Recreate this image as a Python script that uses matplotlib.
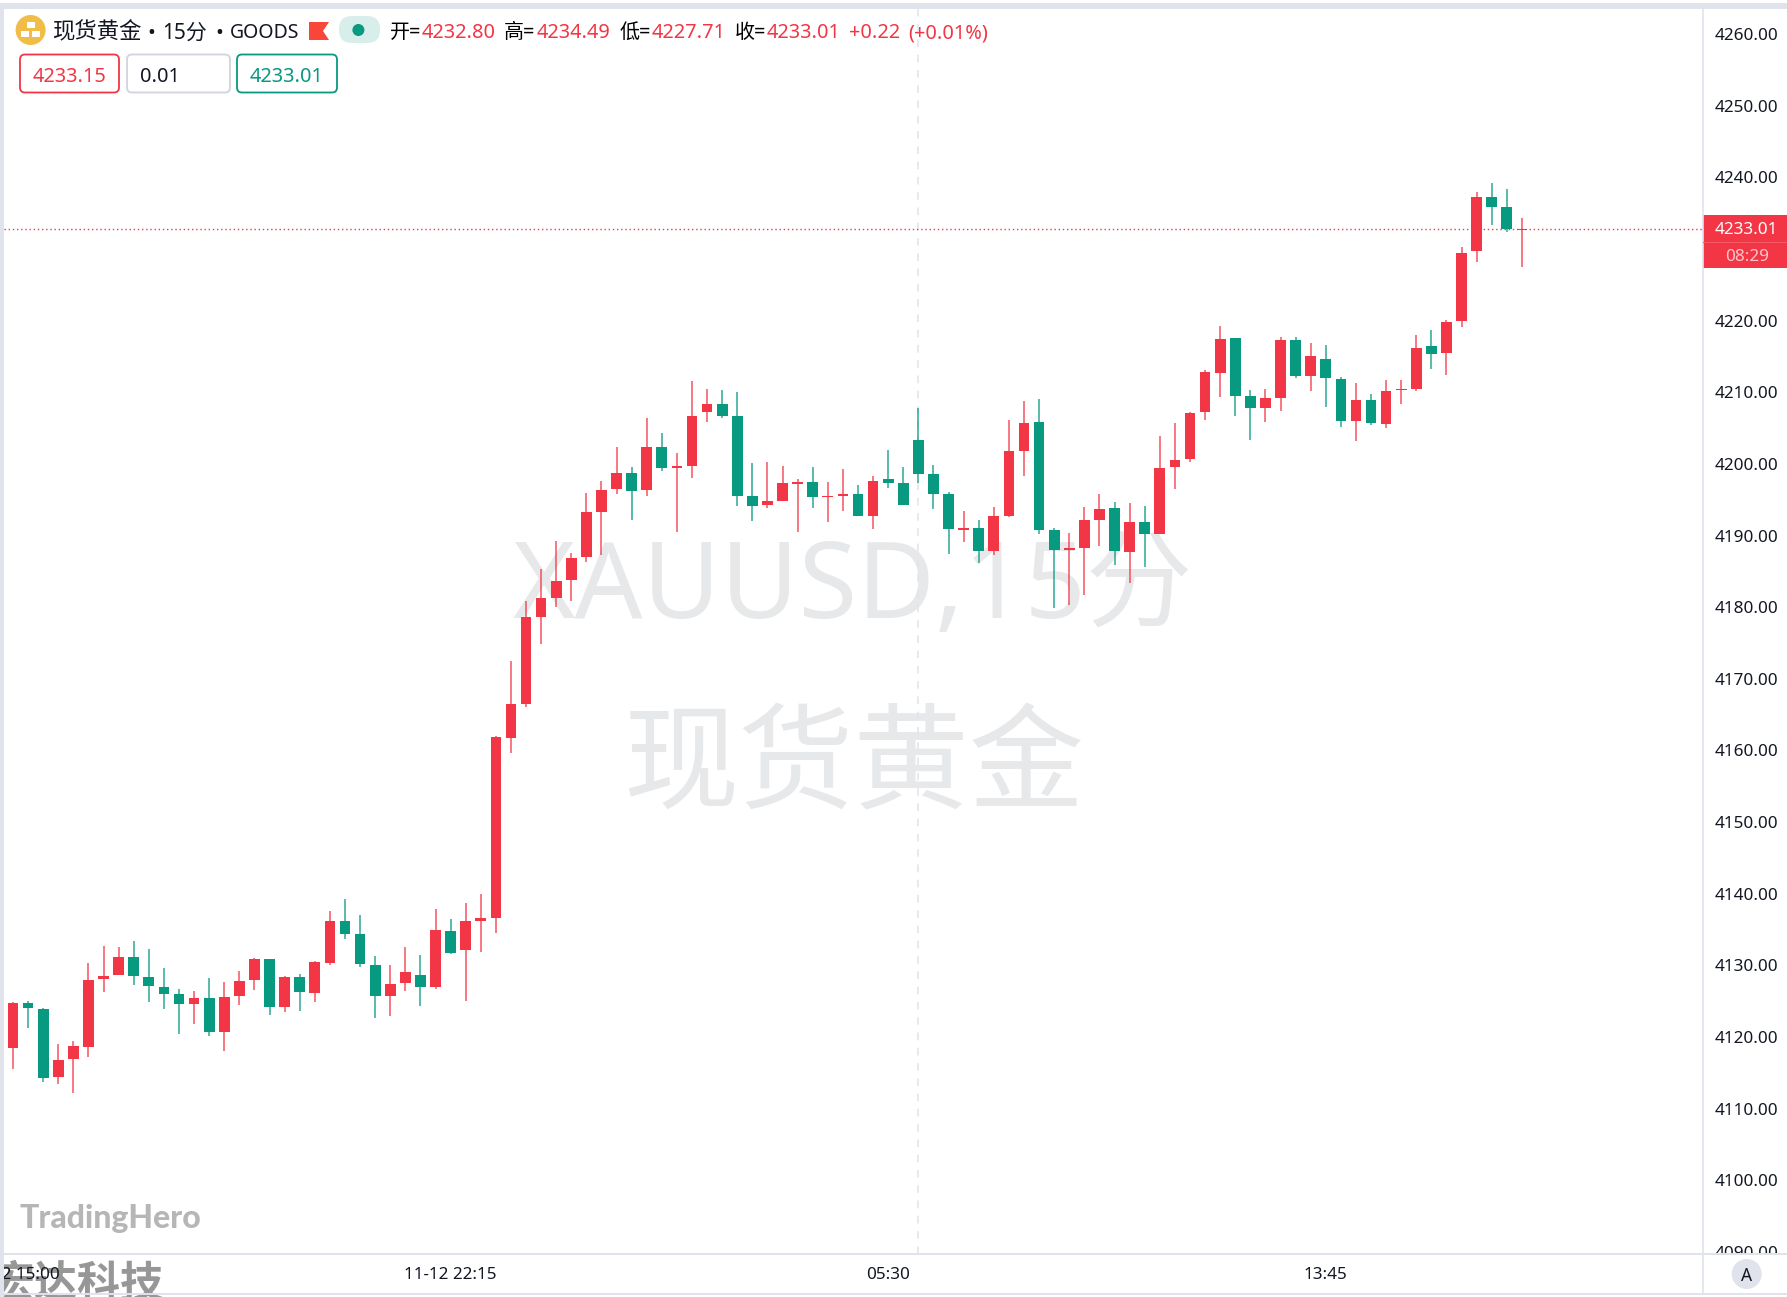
"""XAUUSD 15 分钟 K 线图 (TradingHero 截图复刻)"""
import matplotlib
matplotlib.use("Agg")
import matplotlib.pyplot as plt
import matplotlib.patches as mpatches
import matplotlib.transforms as mtransforms
import numpy as np

W, H = 1787, 1297
plt.rcParams['font.family'] = ['Noto Sans', 'Noto Sans CJK SC', 'DejaVu Sans']

UP = '#F23645'
DOWN = '#089981'
LINE = '#E0E3EB'

opens = [
    4118.70, 4124.93, 4124.14, 4114.56, 4117.07, 4118.84, 4128.24, 4128.84, 4131.31, 4128.56,
    4127.21, 4126.19, 4124.84, 4125.68, 4120.88, 4125.86, 4128.10, 4131.07, 4124.37, 4128.52,
    4126.33, 4130.56, 4136.33, 4134.52, 4130.24, 4125.86, 4127.68, 4128.84, 4127.12, 4135.03,
    4132.28, 4136.41, 4136.83, 4161.95, 4166.66, 4178.76, 4181.46, 4183.97, 4187.14, 4193.42,
    4196.63, 4198.86, 4196.49, 4202.49, 4199.56, 4199.88, 4207.38, 4208.54, 4206.86, 4195.69,
    4194.48, 4195.00, 4197.41, 4197.65, 4195.51, 4195.69, 4195.93, 4192.86, 4198.02, 4197.47,
    4203.47, 4198.81, 4195.93, 4190.99, 4191.18, 4188.02, 4192.86, 4202.02, 4206.02, 4190.90,
    4188.20, 4188.43, 4192.38, 4193.98, 4187.92, 4192.06, 4190.43, 4199.70, 4200.82, 4207.38,
    4212.90, 4217.71, 4209.61, 4207.93, 4209.42, 4217.47, 4212.49, 4214.86, 4211.98, 4206.12,
    4209.05, 4205.79, 4210.45, 4210.59, 4216.59, 4215.61, 4220.12, 4229.85, 4237.39, 4236.08,
    4232.80,
]
highs = [
    4125.12, 4125.26, 4124.23, 4119.16, 4119.67, 4130.47, 4132.94, 4132.75, 4133.59, 4132.52,
    4129.77, 4126.84, 4126.56, 4128.47, 4127.86, 4129.45, 4131.17, 4131.12, 4128.70, 4128.98,
    4130.75, 4137.73, 4139.40, 4137.26, 4131.49, 4130.28, 4132.70, 4131.59, 4138.01, 4136.61,
    4138.84, 4140.09, 4162.19, 4172.66, 4181.08, 4185.46, 4189.41, 4187.69, 4196.11, 4197.75,
    4202.49, 4199.78, 4206.58, 4204.45, 4201.65, 4211.79, 4210.63, 4210.45, 4210.17, 4200.34,
    4200.44, 4199.92, 4198.02, 4199.70, 4197.61, 4199.50, 4197.19, 4198.48, 4202.11, 4199.78,
    4207.93, 4199.98, 4196.21, 4193.56, 4192.30, 4194.16, 4206.26, 4208.95, 4209.23, 4191.18,
    4190.49, 4194.12, 4195.93, 4194.81, 4194.72, 4194.25, 4204.11, 4205.84, 4207.46, 4213.24,
    4219.42, 4217.71, 4210.49, 4210.63, 4217.85, 4217.85, 4217.09, 4216.73, 4212.26, 4211.51,
    4209.89, 4211.93, 4211.93, 4218.21, 4218.87, 4220.22, 4230.49, 4238.17, 4239.43, 4238.55,
    4234.49,
]
lows = [
    4115.67, 4121.49, 4113.95, 4113.67, 4112.32, 4117.44, 4126.42, 4128.84, 4127.49, 4125.03,
    4124.09, 4120.65, 4121.95, 4120.37, 4118.19, 4124.65, 4126.75, 4123.21, 4123.68, 4123.86,
    4125.03, 4130.24, 4133.87, 4129.91, 4122.84, 4123.16, 4126.56, 4124.56, 4126.93, 4131.77,
    4125.21, 4132.04, 4134.73, 4159.82, 4166.20, 4175.08, 4180.24, 4181.08, 4186.44, 4187.46,
    4195.93, 4192.38, 4195.73, 4199.18, 4190.63, 4198.16, 4206.06, 4206.62, 4194.25, 4192.20,
    4194.06, 4195.00, 4190.71, 4194.06, 4192.02, 4193.64, 4192.86, 4191.13, 4196.77, 4194.39,
    4197.47, 4193.84, 4187.60, 4189.31, 4186.38, 4187.50, 4192.72, 4198.53, 4190.43, 4180.10,
    4180.52, 4181.83, 4188.71, 4186.10, 4183.55, 4185.74, 4190.43, 4196.71, 4200.48, 4206.26,
    4209.55, 4206.90, 4203.51, 4205.98, 4207.60, 4212.21, 4210.35, 4208.16, 4205.32, 4203.41,
    4205.56, 4205.23, 4208.49, 4210.31, 4213.42, 4212.54, 4219.33, 4228.36, 4233.52, 4232.59,
    4227.71,
]
closes = [
    4124.93, 4124.19, 4114.51, 4117.02, 4118.93, 4128.14, 4128.70, 4131.40, 4128.65, 4127.26,
    4126.23, 4124.79, 4125.68, 4120.84, 4125.77, 4127.96, 4131.12, 4124.37, 4128.52, 4126.51,
    4130.61, 4136.33, 4134.56, 4130.38, 4125.96, 4127.54, 4129.21, 4127.12, 4135.08, 4131.87,
    4136.38, 4136.74, 4162.09, 4166.66, 4178.76, 4181.46, 4183.87, 4187.04, 4193.42, 4196.53,
    4198.86, 4196.43, 4202.49, 4199.56, 4199.88, 4206.86, 4208.54, 4206.86, 4195.69, 4194.25,
    4195.00, 4197.51, 4197.65, 4195.60, 4195.69, 4195.97, 4192.94, 4197.79, 4197.47, 4194.48,
    4198.72, 4196.01, 4191.09, 4191.18, 4188.02, 4192.86, 4202.02, 4205.88, 4190.95, 4188.20,
    4188.39, 4192.34, 4193.92, 4188.02, 4192.11, 4190.43, 4199.60, 4200.76, 4207.28, 4212.96,
    4217.65, 4209.69, 4207.93, 4209.37, 4217.51, 4212.49, 4215.28, 4212.16, 4206.16, 4209.14,
    4205.84, 4210.39, 4210.63, 4216.39, 4215.51, 4220.02, 4229.61, 4237.43, 4236.08, 4232.92,
    4233.01,
]

price_ticks = list(range(4090, 4270, 10))
time_ticks = [0, 29, 58, 87]
time_labels = ['11-12 15:00', '11-12 22:15', '05:30', '13:45']
crosshair_bar = 60
last_price = 4233.01

legend_parts = [
    (390, '开=', 'black'), (422, '4232.80', UP),
    (504, '高=', 'black'), (537, '4234.49', UP),
    (620, '低=', 'black'), (652, '4227.71', UP),
    (735, '收=', 'black'), (767, '4233.01', UP),
    (849, '+0.22', UP), (908, '(+0.01%)', UP),
]
title_parts = [
    (52, '现货黄金', 16.1), (147, '•', 15), (162.5, '15分', 15), (215, '•', 15), (230, 'GOODS', 14),
]


def px_rect(x0, y0, x1, y1):
    """像素坐标 (原点左上) -> figure 坐标"""
    return [x0 / W, 1 - y1 / H, (x1 - x0) / W, (y1 - y0) / H]


fig = plt.figure(figsize=(W / 100, H / 100), dpi=100, facecolor='white')

# --- 主图 ---
ax = fig.add_axes(px_rect(3.5, 9, 1703, 1254))
ax.set_facecolor('white')
ax.set_xlim(-0.63, 112.0)
ax.set_ylim(4089.88, 4263.67)

xs = np.arange(len(opens))
o, h, l, c = map(np.array, (opens, highs, lows, closes))
colors = [UP if cc >= oo else DOWN for oo, cc in zip(o, c)]

ax.vlines(xs, l, h, colors=colors, linewidth=1.1, alpha=0.85, zorder=3)
ax.bar(xs, np.abs(c - o), bottom=np.minimum(o, c), width=0.71, color=colors,
       linewidth=0, zorder=4)

ax.axvline(crosshair_bar, color=LINE, linewidth=1.1, linestyle=(0, (5, 5)), zorder=1)
ax.axhline(last_price, color=UP, linewidth=1, linestyle=(0, (1, 2)), zorder=2)

ax.yaxis.tick_right()
ax.set_yticks(price_ticks)
ax.set_yticklabels([f'{p:.2f}' for p in price_ticks], va='center_baseline')
ax.tick_params(axis='y', length=0, pad=8.6, labelsize=12.3, labelcolor='#131722')
ax.set_xticks([])
for s in ax.spines.values():
    s.set_visible(False)

# 价格标签上移一点
nudge = mtransforms.ScaledTranslation(0, 1.2 / 100, fig.dpi_scale_trans)
for label in ax.get_yticklabels():
    label.set_transform(label.get_transform() + nudge)

# --- 时间轴 ---
tax = fig.add_axes(px_rect(3.5, 1254, 1703, 1293), zorder=2)
tax.set_facecolor('white')
tax.set_xlim(ax.get_xlim())
tax.set_ylim(0, 1)
tax.set_yticks([])
tax.set_xticks(time_ticks)
tax.set_xticklabels(time_labels)
tax.tick_params(axis='x', length=0, pad=-19, labelsize=12.3, labelcolor='#131722')
for s in tax.spines.values():
    s.set_visible(False)

# --- 像素覆盖层: 边框, 抬头, 价格标签 ---
deco = fig.add_axes([0, 0, 1, 1], zorder=5)
deco.set_xlim(0, W)
deco.set_ylim(H, 0)
deco.axis('off')
deco.patch.set_alpha(0)

deco.add_patch(mpatches.Rectangle((1704, 1255), 83, 38, color='white', zorder=0))
deco.add_patch(mpatches.Rectangle((0, 3), W, 6, color=LINE, linewidth=0))
deco.add_patch(mpatches.Rectangle((0, 3), 3.5, H, color=LINE, linewidth=0))
deco.plot([1703, 1703], [9, 1293], color=LINE, linewidth=1.2)
deco.plot([3, W], [1254, 1254], color=LINE, linewidth=1.4)
deco.plot([3, W], [1293.5, 1293.5], color=LINE, linewidth=1.4)

# 水印 (主图内, 在 K 线下面)
ax.text(853, 618, 'XAUUSD,15分', transform=deco.transData, fontsize=76.8,
        color='#E7E8EA', ha='center', va='baseline', zorder=0)
ax.text(853.5, 767, '现货黄金', transform=deco.transData, fontsize=83,
        family=['Noto Sans CJK SC'], color='#E7E8EA', ha='center', va='center', zorder=0)

# 左上 logo
deco.add_patch(mpatches.Circle((30.6, 30), 15, color='#F0BE48', linewidth=0))
for bx, by in [(30.6, 24.5), (25, 33.5), (36, 33.5)]:
    deco.add_patch(mpatches.Rectangle((bx - 4, by - 3), 8, 6, color='white', linewidth=0))

for px, txt, fs in title_parts:
    deco.text(px, 33, txt, fontsize=fs, color='#131722', va='center')
deco.add_patch(mpatches.Polygon([(309, 22), (329, 22), (323, 31), (329, 40), (309, 40)],
                                color='#F9463A', linewidth=0))
deco.add_patch(mpatches.FancyBboxPatch((339, 16), 41, 27, boxstyle='round,pad=0,rounding_size=13',
                                       color='#D7EEEA', linewidth=0))
deco.add_patch(mpatches.Circle((358.4, 30), 6, color=DOWN, linewidth=0))

for px, txt, col in legend_parts:
    deco.text(px, 33, txt, fontsize=14.4, color=col, va='center')

# 买卖价框
for x0, x1, col in [(20, 119, UP), (127, 230, '#D1D4DC'), (237, 337, DOWN)]:
    deco.add_patch(mpatches.FancyBboxPatch((x0, 54.5), x1 - x0, 38,
                                           boxstyle='round,pad=0,rounding_size=5',
                                           facecolor='white', edgecolor=col, linewidth=1.3))
deco.text(69.5, 76.5, '4233.15', fontsize=14.4, color=UP, ha='center', va='center')
deco.text(140, 76.5, '0.01', fontsize=14.4, color='#131722', va='center')
deco.text(287, 76.5, '4233.01', fontsize=14.4, color=DOWN, ha='center', va='center')

# 右侧现价标签
deco.add_patch(mpatches.Rectangle((1703, 215), 84, 53.3, color=UP, linewidth=0))
deco.plot([1703, 1787], [241.7, 241.7], color='#F55A67', linewidth=0.8)
deco.text(1746.7, 228, f'{last_price:.2f}', fontsize=12.3, color='white', ha='center',
          va='center_baseline', fontweight='bold')
deco.text(1746.7, 255, '08:29', fontsize=12.3, color='#FBC5CA', ha='center',
          va='center_baseline', fontweight='medium')

# A 按钮
deco.add_patch(mpatches.Circle((1746.7, 1274), 15, color=LINE, linewidth=0))
deco.text(1746.7, 1274, 'A', fontsize=12.5, color='#131722', ha='center', va='center_baseline')

# 角标水印: 宏达科技压在时间标签下面
deco.text(19, 1228, 'TradingHero', fontsize=23, fontweight='black', color='#B6B6B6',
          va='baseline', family=['Lato', 'DejaVu Sans'])
tax.text(-8, 1284, '宏达科技', transform=deco.transData, fontsize=31, fontweight='bold',
         color='#8C8C8C', alpha=0.9, va='center', family=['Noto Sans CJK SC'],
         clip_on=False, zorder=1)

fig.savefig('out.png', dpi=100, facecolor='white')
plt.close(fig)
